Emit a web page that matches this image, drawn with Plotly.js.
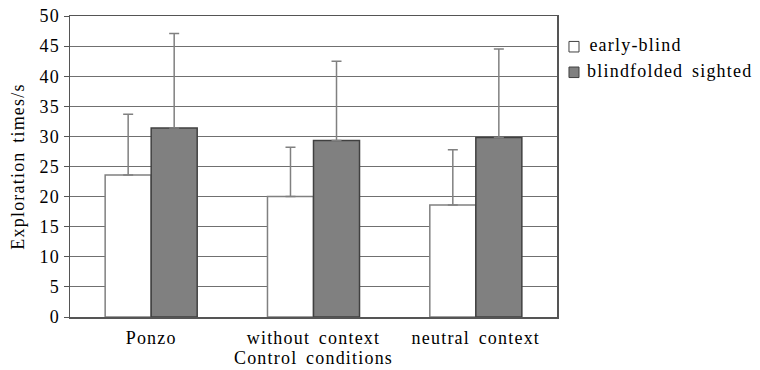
<!DOCTYPE html>
<html>
<head>
<meta charset="utf-8">
<script src="https://cdn.plot.ly/plotly-3.0.1.min.js"></script>
<style>
html,body{margin:0;padding:0;background:#fff;}
#chart{width:760px;height:370px;}
#chart text{letter-spacing:1.2px;word-spacing:3px;}
</style>
</head>
<body>
<div id="chart"></div>
<script>
var categories = ["Ponzo", "without context", "neutral context"];
var earlyBlind = [23.6, 20.0, 18.6];
var earlyBlindErr = [10.1, 8.2, 9.2];
var blindfolded = [31.4, 29.3, 29.8];
var blindfoldedErr = [15.7, 13.2, 14.7];
var seriesNames = ["early-blind", "blindfolded sighted"];
var yTicks = [0, 5, 10, 15, 20, 25, 30, 35, 40, 45, 50];

var fam = "Times New Roman";

var fills = ["#ffffff", "#808080"];
var outlines = ["#808080", "#404040"];

var traces = [
  {
    type: "bar", name: seriesNames[0], x: categories, y: earlyBlind,
    marker: {color: fills[0], line: {color: outlines[0], width: 1.5}},
    error_y: {type: "data", symmetric: false, array: earlyBlindErr, arrayminus: [0,0,0],
              color: "#808080", thickness: 1.5, width: 5}
  },
  {
    type: "bar", name: seriesNames[1], x: categories, y: blindfolded,
    marker: {color: fills[1], line: {color: outlines[1], width: 1.5}},
    error_y: {type: "data", symmetric: false, array: blindfoldedErr, arrayminus: [0,0,0],
              color: "#808080", thickness: 1.5, width: 5}
  }
];

// hand-drawn legend (paper coordinates)
var legY = [0.898, 0.813];
var legTextX = [1.0758, 1.084];
var shapes = [];
var annotations = [];
seriesNames.forEach(function (nm, i) {
  shapes.push({type: "rect", xref: "paper", yref: "paper",
    x0: 1.0246, x1: 1.0452, y0: legY[i] - 0.0175, y1: legY[i] + 0.0175,
    fillcolor: fills[i], line: {color: "#404040", width: 1}});
  annotations.push({xref: "paper", yref: "paper", x: legTextX[i], y: legY[i] + 0.004,
    xanchor: "left", yanchor: "middle", showarrow: false, text: nm,
    font: {family: fam, size: 18, color: "#000000"}});
});

var layout = {
  width: 760, height: 370,
  margin: {l: 70, r: 203, t: 16, b: 53},
  paper_bgcolor: "#fff", plot_bgcolor: "#fff",
  font: {family: fam, size: 18, color: "#000000"},
  barmode: "group", bargap: 0.433, bargroupgap: 0,
  showlegend: false,
  shapes: shapes,
  annotations: annotations,
  xaxis: {
    showline: true, linecolor: "#555", linewidth: 1.5, mirror: true,
    ticks: "", ticklabelstandoff: 4,
    tickfont: {family: fam, size: 18, color: "#000000"},
    title: {text: "Control conditions", font: {family: fam, size: 18, color: "#000000"}, standoff: 2},
    fixedrange: true
  },
  yaxis: {
    range: [0, 50], tickvals: yTicks, ticktext: yTicks.map(String),
    showline: true, linecolor: "#555", linewidth: 1.5, mirror: true,
    ticks: "outside", ticklen: 5, tickcolor: "#555", tickwidth: 1,
    showgrid: true, gridcolor: "#707070", gridwidth: 1.2,
    zeroline: false,
    tickfont: {family: fam, size: 18, color: "#000000"},
    title: {text: "Exploration times/s", font: {family: fam, size: 18, color: "#000000"}, standoff: 12},
    fixedrange: true
  }
};

Plotly.newPlot("chart", traces, layout, {displayModeBar: false, staticPlot: true});
</script>
</body>
</html>
